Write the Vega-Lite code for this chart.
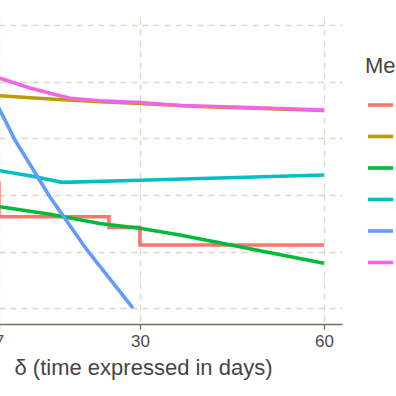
{
  "$schema": "https://vega.github.io/schema/vega-lite/v6.json",
  "width": 398,
  "height": 306,
  "autosize": {"type": "none"},
  "padding": {"left": -56, "top": 18, "right": 54, "bottom": 72},
  "background": "white",
  "config": {
    "view": {"stroke": null},
    "font": "Liberation Sans"
  },
  "data": {
    "values": [
      {"m": "M1", "x": 1, "y": 3.211},
      {"m": "M1", "x": 7, "y": 2.616},
      {"m": "M1", "x": 24.95, "y": 2.429},
      {"m": "M1", "x": 30, "y": 2.117},
      {"m": "M1", "x": 60, "y": 2.117},
      {"m": "M2", "x": 5.54, "y": 4.764},
      {"m": "M2", "x": 7.17, "y": 4.752},
      {"m": "M2", "x": 15.33, "y": 4.693},
      {"m": "M2", "x": 23.48, "y": 4.646},
      {"m": "M2", "x": 30, "y": 4.614},
      {"m": "M2", "x": 39.78, "y": 4.561},
      {"m": "M2", "x": 60, "y": 4.49},
      {"m": "M3", "x": 5.54, "y": 2.823},
      {"m": "M3", "x": 7.17, "y": 2.793},
      {"m": "M3", "x": 15.33, "y": 2.659},
      {"m": "M3", "x": 23.48, "y": 2.496},
      {"m": "M3", "x": 30, "y": 2.412},
      {"m": "M3", "x": 36.52, "y": 2.293},
      {"m": "M3", "x": 60, "y": 1.794},
      {"m": "M4", "x": 5.54, "y": 3.458},
      {"m": "M4", "x": 7.17, "y": 3.428},
      {"m": "M4", "x": 12.88, "y": 3.322},
      {"m": "M4", "x": 17.28, "y": 3.223},
      {"m": "M4", "x": 30, "y": 3.259},
      {"m": "M4", "x": 60, "y": 3.352},
      {"m": "M5", "x": 5.54, "y": 4.852},
      {"m": "M5", "x": 7.17, "y": 4.499},
      {"m": "M5", "x": 9.62, "y": 3.97},
      {"m": "M5", "x": 15.33, "y": 2.964},
      {"m": "M5", "x": 21.36, "y": 2.029},
      {"m": "M5", "x": 28.86, "y": 1.005},
      {"m": "M6", "x": 5.54, "y": 5.12},
      {"m": "M6", "x": 7.17, "y": 5.059},
      {"m": "M6", "x": 12.07, "y": 4.887},
      {"m": "M6", "x": 15.33, "y": 4.794},
      {"m": "M6", "x": 18.59, "y": 4.706},
      {"m": "M6", "x": 23.48, "y": 4.663},
      {"m": "M6", "x": 30, "y": 4.632},
      {"m": "M6", "x": 36.52, "y": 4.579},
      {"m": "M6", "x": 47.94, "y": 4.543},
      {"m": "M6", "x": 60, "y": 4.499}
    ]
  },
  "encoding": {
    "x": {
      "field": "x",
      "type": "quantitative",
      "scale": {"domain": [-1.95, 62.95], "nice": false, "zero": false},
      "axis": {
        "title": "δ (time expressed in days)",
        "values": [7, 30, 60],
        "grid": true,
        "gridColor": "#ddd4c6",
        "gridDash": [6, 5],
        "gridWidth": 1.3,
        "domainColor": "#7d6c55",
        "domainWidth": 1.3,
        "tickColor": "#7d6c55",
        "tickSize": 5,
        "tickWidth": 1.3,
        "labelFontSize": 17,
        "labelColor": "#4d4d4d",
        "labelPadding": 4,
        "labelFlush": false,
        "titleFontSize": 22,
        "titleFontWeight": "normal",
        "titleColor": "#454545",
        "titlePadding": 8
      }
    },
    "y": {
      "field": "y",
      "type": "quantitative",
      "scale": {"domain": [0.723, 6.123], "nice": false, "zero": false},
      "axis": {
        "title": null,
        "values": [1, 2, 3, 4, 5, 6],
        "labels": false,
        "ticks": false,
        "domain": false,
        "grid": true,
        "gridColor": "#ddd4c6",
        "gridDash": [6, 5],
        "gridWidth": 1.3
      }
    },
    "color": {
      "field": "m",
      "type": "nominal",
      "scale": {
        "domain": ["M1", "M2", "M3", "M4", "M5", "M6"],
        "range": ["#F8766D", "#B79F00", "#00BA38", "#00BFC4", "#619CFF", "#F564E3"]
      },
      "legend": {
        "title": "Method",
        "orient": "none",
        "legendX": 421,
        "legendY": 37.5,
        "padding": 0,
        "titleFontSize": 22,
        "titleFontWeight": "normal",
        "titleColor": "#454545",
        "titlePadding": 13,
        "labelFontSize": 20,
        "labelColor": "#454545",
        "symbolType": "stroke",
        "symbolSize": 625,
        "symbolStrokeWidth": 3.6,
        "symbolOffset": 1,
        "rowPadding": 6.5
      }
    }
  },
  "layer": [
    {
      "transform": [{"filter": "datum.m === 'M1'"}],
      "mark": {"type": "line", "strokeWidth": 3.6, "clip": true, "interpolate": "step-after"}
    },
    {
      "transform": [{"filter": "datum.m !== 'M1'"}],
      "mark": {"type": "line", "strokeWidth": 3.6, "clip": true}
    }
  ]
}
